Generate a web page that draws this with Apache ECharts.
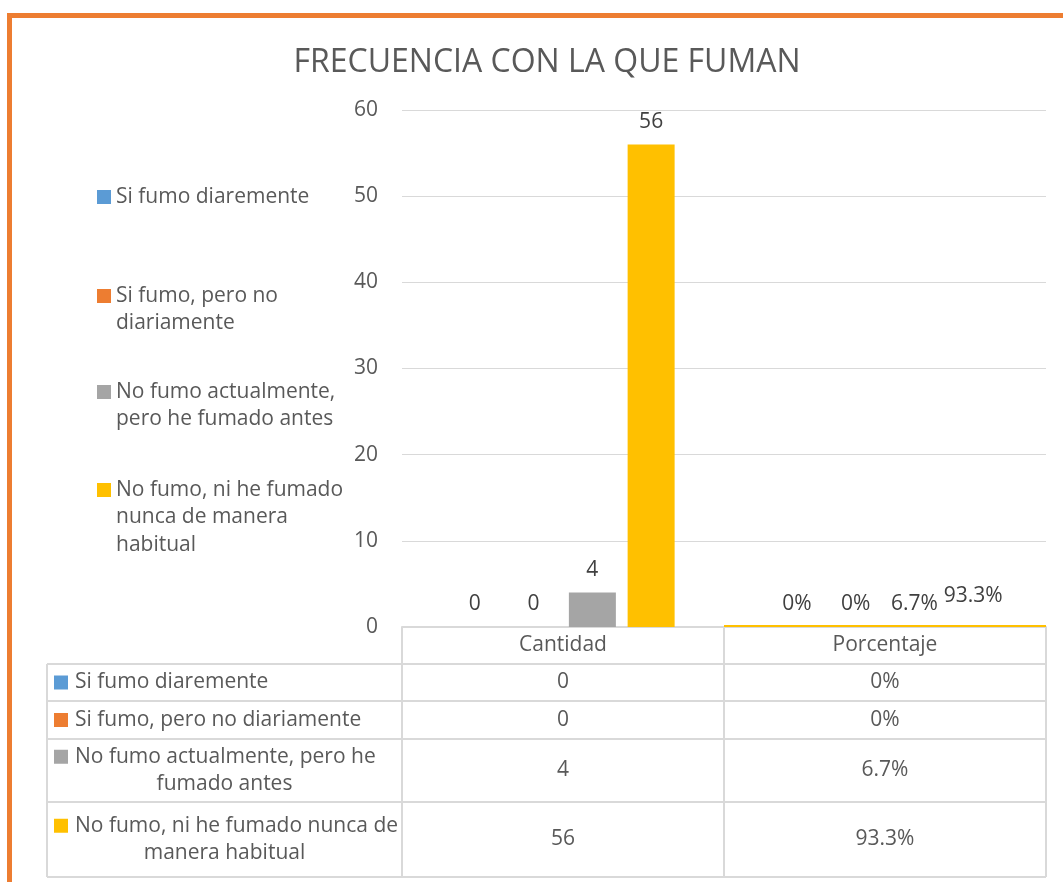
<!DOCTYPE html>
<html>
<head>
<meta charset="utf-8">
<script src="https://cdn.jsdelivr.net/npm/echarts@6/dist/echarts.min.js"></script>
<style>
  html, body { margin: 0; padding: 0; background: #fff; }
  #main { width: 1063px; height: 882px; }
</style>
</head>
<body>
<div id="main"></div>
<script>
// datos
const categories = ['Cantidad', 'Porcentaje'];
const seriesNames = [
  'Si fumo diaremente',
  'Si fumo, pero no diariamente',
  'No fumo actualmente, pero he fumado antes',
  'No fumo, ni he fumado nunca de manera habitual'
];
const cantidad = [0, 0, 4, 56];
const porcentaje = [0, 0, 0.067, 0.933];
const colors = ['#5B9BD5', '#ED7D31', '#A5A5A5', '#FFC000'];
// lineas de texto tal como aparecen en la leyenda y la tabla
const legendLines = [
  ['Si fumo diaremente'],
  ['Si fumo, pero no', 'diariamente'],
  ['No fumo actualmente,', 'pero he fumado antes'],
  ['No fumo, ni he fumado', 'nunca de manera', 'habitual']
];
const tableLines = [
  ['Si fumo diaremente'],
  ['Si fumo, pero no diariamente'],
  ['No fumo actualmente, pero he', 'fumado antes'],
  ['No fumo, ni he fumado nunca de', 'manera habitual']
];

const FONT = '"Open Sans", sans-serif';
const TXT = '#595959';
const FS = 21;
const LH = 27.5;
const legendCenters = [197, 296, 392, 490];

function pct (v) {
  return v === 0 ? '0%' : (v * 100).toFixed(1) + '%';
}

const chart = echarts.init(document.getElementById('main'));

const option = {
  animation: false,
  title: {
    text: 'FRECUENCIA CON LA QUE FUMAN',
    left: 542,
    textAlign: 'center',
    top: 42,
    textStyle: { fontFamily: FONT, fontSize: 32, fontWeight: 'normal', color: TXT }
  },
  legend: seriesNames.map((name, i) => {
    const n = legendLines[i].length;
    // lineas vacias delante para que el cuadro quede a la altura de la primera linea
    const pad = new Array(n - 1).fill(' ');
    return {
      data: [name],
      orient: 'vertical',
      left: 97,
      top: legendCenters[i] - (n - 0.5) * LH,
      padding: 0,
      icon: 'rect',
      itemWidth: 14,
      itemHeight: 14,
      selectedMode: false,
      formatter: () => pad.concat(legendLines[i]).join('\n'),
      textStyle: { fontFamily: FONT, fontSize: FS, color: TXT, lineHeight: LH }
    };
  }),
  grid: { left: 402, right: 17, top: 110, bottom: 255 },
  xAxis: {
    type: 'category',
    data: categories,
    axisLine: { lineStyle: { color: '#D9D9D9', width: 2 } },
    axisTick: { show: false },
    axisLabel: { margin: 8, fontFamily: FONT, fontSize: FS, color: TXT }
  },
  yAxis: {
    type: 'value',
    min: 0,
    max: 60,
    interval: 10,
    axisLine: { show: false },
    axisTick: { show: false },
    axisLabel: { margin: 24, fontFamily: FONT, fontSize: FS, color: TXT },
    splitLine: { lineStyle: { color: '#D9D9D9', width: 1 } }
  },
  series: seriesNames.map((name, i) => ({
    name: name,
    type: 'bar',
    barWidth: 47,
    barGap: '25%',
    itemStyle: { color: colors[i] },
    // en el original las barras de porcentaje no se ven
    data: [cantidad[i], { value: porcentaje[i], itemStyle: { color: 'rgba(0,0,0,0)' } }],
    label: {
      show: true,
      position: 'top',
      distance: 12,
      fontFamily: FONT,
      fontSize: FS,
      color: '#404040',
      formatter: p => (p.dataIndex === 0 ? String(p.value) : pct(p.value))
    }
  }))
};
chart.setOption(option);

// tabla de datos debajo del grafico
const colX = [47, 402, 724, 1046];
const rowY = [627, 664, 701, 739, 802, 877];
const lineStyle = { stroke: '#D9D9D9', lineWidth: 2 };
const els = [];
function hline (y, x1, x2) {
  els.push({ type: 'line', shape: { x1: x1, y1: y, x2: x2, y2: y }, style: lineStyle, z: 10 });
}
function vline (x, y1, y2) {
  els.push({ type: 'line', shape: { x1: x, y1: y1, x2: x, y2: y2 }, style: lineStyle, z: 10 });
}
for (let r = 1; r < rowY.length; r++) hline(rowY[r], colX[0], colX[3]);
vline(colX[0], rowY[1], rowY[5]);
for (let c = 1; c < colX.length; c++) vline(colX[c], rowY[0], rowY[5]);
// linea amarilla sobre la columna de porcentaje
els.push({ type: 'line', shape: { x1: colX[2], y1: rowY[0] - 1, x2: colX[3], y2: rowY[0] - 1 }, style: { stroke: '#FFC000', lineWidth: 2 }, z: 11 });

const cx0 = chart.convertToPixel({ xAxisIndex: 0 }, 0);
const cx1 = chart.convertToPixel({ xAxisIndex: 0 }, 1);
const leftCenter = (colX[0] + colX[1]) / 2;
function txt (x, y, s, align) {
  els.push({
    type: 'text', x: x, y: y, z: 11,
    style: { text: s, fontFamily: FONT, fontSize: FS, fill: TXT, align: align, verticalAlign: 'middle' }
  });
}
seriesNames.forEach((name, i) => {
  const top = rowY[i + 1];
  const bottom = rowY[i + 2];
  const lines = tableLines[i];
  const mid = (top + bottom) / 2;
  const y0 = mid - (lines.length - 1) * LH / 2;
  els.push({ type: 'rect', shape: { x: 54, y: y0 - 7, width: 14, height: 14 }, style: { fill: colors[i] }, z: 11 });
  txt(75, y0, lines[0], 'left');
  for (let k = 1; k < lines.length; k++) txt(leftCenter, y0 + k * LH, lines[k], 'center');
  txt(cx0, mid, String(cantidad[i]), 'center');
  txt(cx1, mid, pct(porcentaje[i]), 'center');
});

// marco naranja
els.push({ type: 'rect', shape: { x: 7, y: 13, width: 1056, height: 5 }, style: { fill: '#ED7D31' }, z: 12 });
els.push({ type: 'rect', shape: { x: 7, y: 13, width: 5, height: 869 }, style: { fill: '#ED7D31' }, z: 12 });

chart.setOption({ graphic: { elements: els } });
</script>
</body>
</html>
